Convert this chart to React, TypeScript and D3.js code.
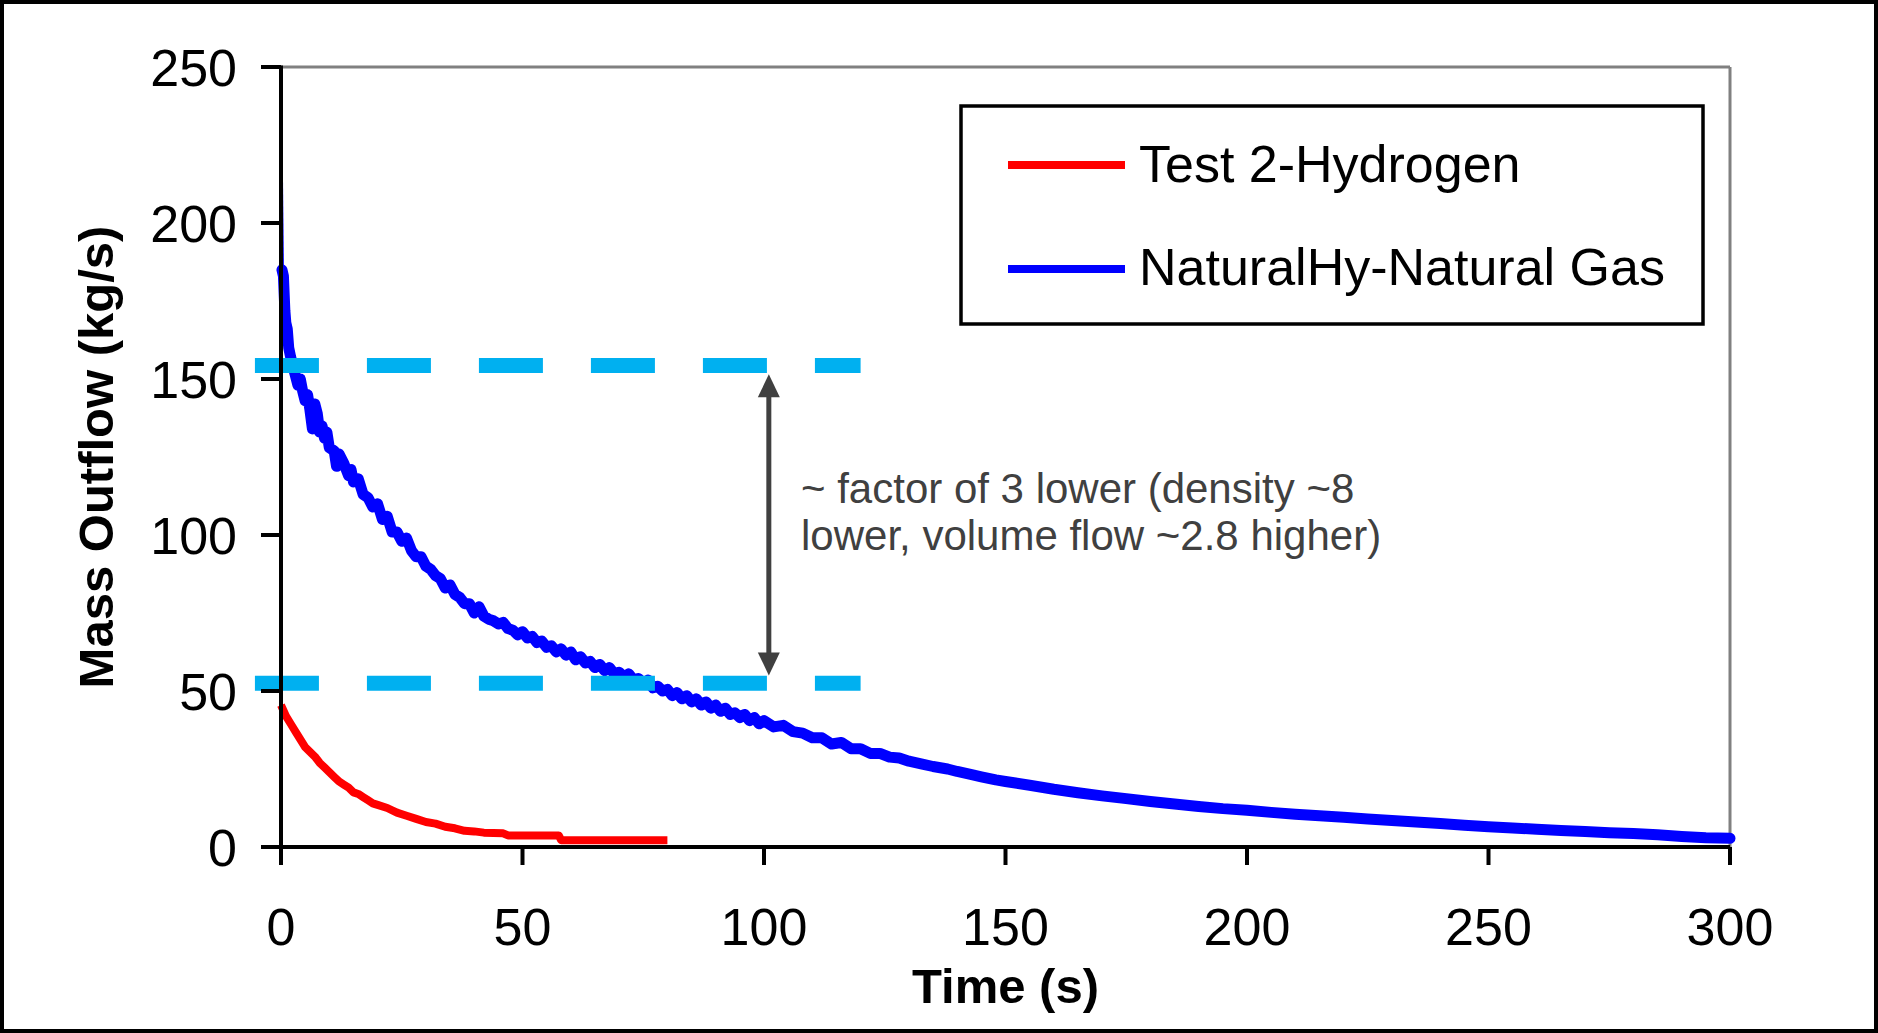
import React from "react";
import * as d3 from "d3";

// ---- data ----
const xTicks = [0, 50, 100, 150, 200, 250, 300];
const yTicks = [0, 50, 100, 150, 200, 250];

const seriesNames = ["Test 2-Hydrogen", "NaturalHy-Natural Gas"];

// initial spike of the natural gas release
const blueSpike: [number, number][] = [
  [0, 214],
  [0.2, 185],
];

// NaturalHy - Natural Gas (time s, kg/s)
const blueData: [number, number][] = [
  [0.2, 185], [0.5, 183], [0.8, 172], [1.0, 168], [1.3, 166], [1.6, 160], [2.0, 157],
  [2.5, 154], [3.0, 151], [3.5, 148], [4.0, 150], [4.5, 146], [5.0, 143], [5.5, 145],
  [6.0, 140], [6.5, 134], [7.0, 142], [7.5, 139], [8.0, 133], [8.5, 135], [9.0, 131],
  [9.5, 133], [10, 128], [11, 127], [11.5, 122], [12, 126], [13, 123], [14, 119],
  [14.5, 121], [15, 117], [16, 118], [17, 113], [18, 112], [19, 109], [20, 110],
  [21, 105], [22, 106], [23, 101], [24, 101], [25, 98], [26, 99], [27, 95], [28, 93],
  [29, 93], [30, 90], [31, 89], [32, 87], [33, 86], [34, 83], [35, 84], [36, 81],
  [37, 80], [38, 78], [39, 78], [40, 75], [41, 77], [42, 74], [43, 73], [44, 72.5],
  [45, 71.5], [46, 72], [47, 70], [48, 69.5], [49, 68], [50, 69], [51, 67], [52, 67.5],
  [53, 65.5], [54, 66], [55, 64], [56, 64.5], [57, 62.5], [58, 63.5], [59, 61.5],
  [60, 62.5], [61, 60], [62, 61], [63, 59], [64, 59.5], [65, 57.5], [66, 58.5],
  [67, 56.5], [68, 57.5], [69, 55.5], [70, 56], [71, 54.5], [72, 55.5], [73, 53.5],
  [74, 54], [75, 52.5], [76, 53.5], [77, 51], [78, 51.5], [79, 50], [80, 50.5],
  [81, 48.5], [82, 49.5], [83, 47.5], [84, 48.5], [85, 46.5], [86, 47.5], [87, 45.5],
  [88, 46.5], [89, 44.5], [90, 45.5], [91, 43.5], [92, 44.5], [93, 42.5], [94, 43],
  [95, 41.5], [96, 42.5], [97, 40.5], [98, 41.5], [99, 39.5], [100, 40.5], [102, 38.5],
  [104, 39], [106, 37], [108, 36.5], [110, 35], [112, 35], [114, 33], [116, 33.5],
  [118, 31.5], [120, 31.5], [122, 30], [124, 30], [126, 28.8], [128, 28.5], [130, 27.5],
  [133, 26.5], [135, 25.8], [138, 25], [140, 24.2], [143, 23.2], [145, 22.5],
  [148, 21.5], [150, 21], [155, 19.8], [160, 18.5], [165, 17.4], [170, 16.4],
  [175, 15.5], [180, 14.6], [185, 13.8], [190, 13], [195, 12.3], [200, 11.8],
  [205, 11.1], [210, 10.5], [215, 10], [220, 9.5], [225, 9], [230, 8.5], [235, 8],
  [240, 7.5], [245, 7], [250, 6.5], [255, 6.1], [260, 5.7], [265, 5.3], [270, 5],
  [275, 4.6], [280, 4.3], [285, 3.9], [290, 3.4], [295, 3], [300, 2.8],
];

// Test 2 - Hydrogen (time s, kg/s)
const redData: [number, number][] = [
  [0, 45.5], [1, 42], [2, 39.5], [3, 37], [4, 34.5], [5, 32], [6, 30.5], [7, 29],
  [8, 27], [9, 25.5], [10, 24], [11, 22.5], [12, 21], [13, 20], [14, 19], [15, 17.5],
  [16, 17], [17, 16], [18, 15], [19, 14], [20, 13.5], [22, 12.5], [24, 11], [26, 10],
  [28, 9], [30, 8], [32, 7.5], [34, 6.5], [36, 6], [38, 5.2], [40, 5], [42, 4.6],
  [46, 4.4], [47, 3.7], [57.5, 3.7], [58, 2.2], [80, 2.2],
];

// reference levels and annotation
const refLevels = [154.3, 52.5];
const refRange = [-5.4, 120];
const arrowX = 101;
const arrowRange = [151.5, 55];
const annotationLines = [
  "~ factor of 3 lower (density ~8",
  "lower, volume flow ~2.8 higher)",
];

const FONT = "'Liberation Sans', Arial, sans-serif";

export default function App() {
  const W = 1878;
  const H = 1033;
  const x = d3.scaleLinear().domain([0, 300]).range([281, 1730]);
  const y = d3.scaleLinear().domain([0, 250]).range([847, 67]);

  const line = d3
    .line<[number, number]>()
    .x((d) => x(d[0]))
    .y((d) => y(d[1]));

  const ax = x(arrowX);
  const ay1 = y(arrowRange[0]);
  const ay2 = y(arrowRange[1]);
  const headL = 23;
  const headW = 11;

  return (
    <svg
      width={W}
      height={H}
      style={{ position: "absolute", left: 0, top: 0, background: "#fff" }}
    >
      <rect x={0} y={0} width={W} height={H} fill="#fff" />
      <rect x={2} y={2} width={W - 4} height={H - 4} fill="none" stroke="#000" strokeWidth={4} />

      {/* plot frame: top & right gray */}
      <line x1={x(0)} x2={x(300)} y1={y(250)} y2={y(250)} stroke="#808080" strokeWidth={3} />
      <line x1={x(300)} x2={x(300)} y1={y(250)} y2={y(0)} stroke="#808080" strokeWidth={3} />

      {/* curves */}
      <path d={line(redData) || ""} fill="none" stroke="#ff0000" strokeWidth={8} strokeLinejoin="round" />
      <path d={line(blueSpike) || ""} fill="none" stroke="#0000ff" strokeWidth={4} />
      <path d={line(blueData) || ""} fill="none" stroke="#0000ff" strokeWidth={11} strokeLinejoin="round" strokeLinecap="round" />

      {/* reference dashed lines */}
      {refLevels.map((v, i) => (
        <line
          key={i}
          x1={x(refRange[0])}
          x2={x(refRange[1])}
          y1={y(v)}
          y2={y(v)}
          stroke="#00B0F0"
          strokeWidth={15}
          strokeDasharray="64 48"
        />
      ))}

      {/* axes */}
      <line x1={x(0)} x2={x(0)} y1={y(250) - 1.5} y2={y(0) + 18} stroke="#000" strokeWidth={4} />
      <line x1={x(0) - 20} x2={x(300)} y1={y(0)} y2={y(0)} stroke="#000" strokeWidth={4} />
      {yTicks.map((t) => (
        <g key={"y" + t}>
          <line x1={x(0) - 20} x2={x(0)} y1={y(t)} y2={y(t)} stroke="#000" strokeWidth={4} />
          <text
            x={237}
            y={y(t) + 19}
            textAnchor="end"
            fontFamily={FONT}
            fontSize={52}
            fill="#000"
          >
            {t}
          </text>
        </g>
      ))}
      {xTicks.map((t) => (
        <g key={"x" + t}>
          <line x1={x(t)} x2={x(t)} y1={y(0)} y2={y(0) + 18} stroke="#000" strokeWidth={4} />
          <text
            x={x(t)}
            y={945}
            textAnchor="middle"
            fontFamily={FONT}
            fontSize={52}
            fill="#000"
          >
            {t}
          </text>
        </g>
      ))}

      {/* axis titles */}
      <text
        x={(x(0) + x(300)) / 2}
        y={1003}
        textAnchor="middle"
        fontFamily={FONT}
        fontSize={49}
        fontWeight="bold"
      >
        Time (s)
      </text>
      <text
        transform={`translate(113, ${(y(0) + y(250)) / 2}) rotate(-90)`}
        textAnchor="middle"
        fontFamily={FONT}
        fontSize={49}
        fontWeight="bold"
      >
        Mass Outflow (kg/s)
      </text>

      {/* arrow */}
      <line x1={ax} x2={ax} y1={ay1 + headL - 2} y2={ay2 - headL + 2} stroke="#404040" strokeWidth={5} />
      <path d={`M${ax},${ay1} L${ax - headW},${ay1 + headL} L${ax + headW},${ay1 + headL} Z`} fill="#404040" />
      <path d={`M${ax},${ay2} L${ax - headW},${ay2 - headL} L${ax + headW},${ay2 - headL} Z`} fill="#404040" />

      {/* annotation */}
      {annotationLines.map((s, i) => (
        <text key={i} x={801} y={503 + i * 47} fontFamily={FONT} fontSize={42} fill="#404040">
          {s}
        </text>
      ))}

      {/* legend */}
      <rect x={961} y={106} width={742} height={218} fill="#fff" stroke="#000" strokeWidth={3.5} />
      {seriesNames.map((name, i) => (
        <g key={name}>
          <line
            x1={1008}
            x2={1125}
            y1={165 + i * 104}
            y2={165 + i * 104}
            stroke={i === 0 ? "#ff0000" : "#0000ff"}
            strokeWidth={8}
          />
          <text x={1139} y={182 + i * 103} fontFamily={FONT} fontSize={52} fill="#000">
            {name}
          </text>
        </g>
      ))}
    </svg>
  );
}
